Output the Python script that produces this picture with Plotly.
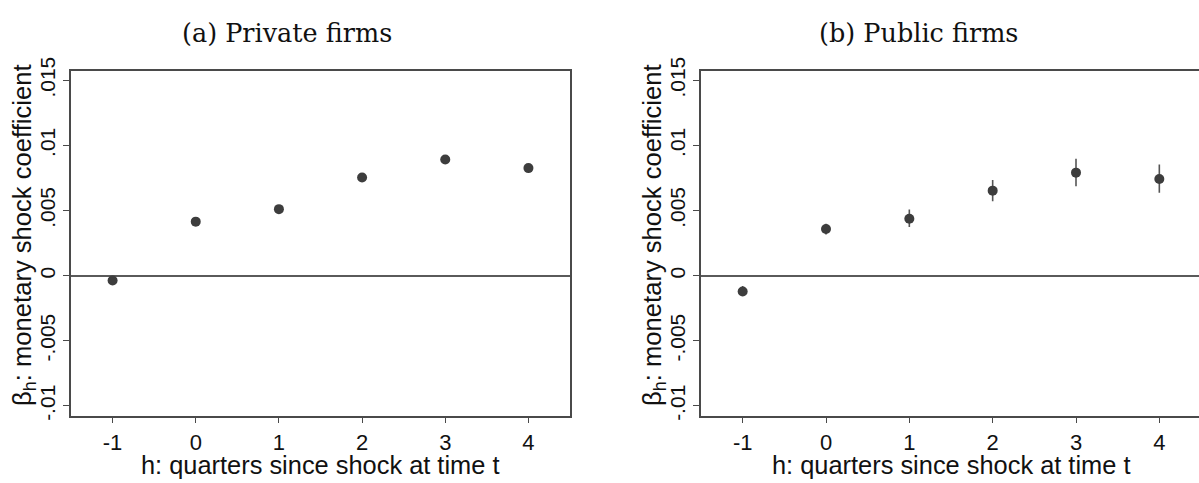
import plotly.graph_objects as go

# Event-time horizons (quarters since shock)
horizons = [-1, 0, 1, 2, 3, 4]
x_ticks = [-1, 0, 1, 2, 3, 4]
x_tick_labels = ["-1", "0", "1", "2", "3", "4"]
y_ticks = [-0.01, -0.005, 0, 0.005, 0.01, 0.015]
y_tick_labels = ["-.01", "-.005", "0", ".005", ".01", ".015"]

# Private firms: point estimates
private_beta = [-0.00037, 0.00415, 0.00511, 0.00754, 0.00892, 0.00826]

# Public firms: point estimates and confidence bounds
public_beta = [-0.00121, 0.00359, 0.00437, 0.00653, 0.00791, 0.00742]
public_upper = [-0.00079, 0.00398, 0.00509, 0.00735, 0.00897, 0.00853]
public_lower = [-0.00155, 0.00317, 0.00373, 0.00572, 0.00686, 0.00636]

W, H = 1199, 483
MARK = "#3d3d3d"
FRAME = "#4a4a4a"
XTICK_FONT = dict(family="Liberation Sans, Arial, sans-serif", size=22, color="#111")
YTICK_FONT = dict(family="Liberation Sans, Arial, sans-serif", size=21, color="#111")
XTITLE_FONT = dict(family="Liberation Sans, Arial, sans-serif", size=25.4, color="#111")
YTITLE_FONT = dict(family="Liberation Sans, Arial, sans-serif", size=25.6, color="#111")
HEAD_FONT = dict(family="DejaVu Serif, serif", size=25.5, color="#111")

def px_x(p):
    return p / W

def px_y(p):
    return 1 - p / H

fig = go.Figure()

fig.add_trace(go.Scatter(
    x=horizons, y=private_beta, mode="markers",
    marker=dict(size=10, color=MARK),
    xaxis="x", yaxis="y", showlegend=False,
))

fig.add_trace(go.Scatter(
    x=horizons, y=public_beta, mode="markers",
    marker=dict(size=10, color=MARK),
    error_y=dict(
        type="data", symmetric=False,
        array=[u - b for u, b in zip(public_upper, public_beta)],
        arrayminus=[b - l for b, l in zip(public_beta, public_lower)],
        width=0, thickness=1.6, color="#555555",
    ),
    xaxis="x2", yaxis="y2", showlegend=False,
))

y_dom = [px_y(418), px_y(59)]
y_range = [-0.01074, 0.01574]

common_x = dict(
    tickmode="array", tickvals=x_ticks, ticktext=x_tick_labels,
    ticks="outside", ticklen=6,
    tickcolor=FRAME, tickwidth=1.2, showgrid=False, zeroline=False,
    showline=True, linecolor=FRAME, linewidth=1.5, mirror=True,
    tickfont=XTICK_FONT,
)
common_y = dict(
    tickmode="array", tickvals=y_ticks, ticktext=y_tick_labels,
    ticks="outside", ticklen=6, tickcolor=FRAME, tickwidth=1.2,
    tickangle=-90, showgrid=False, zeroline=True, zerolinecolor="#5a5a5a",
    zerolinewidth=1.6, showline=True, linecolor=FRAME, linewidth=1.5,
    range=y_range, domain=y_dom, tickfont=YTICK_FONT,
)

fig.update_layout(
    width=W, height=H,
    margin=dict(l=0, r=0, t=0, b=0),
    paper_bgcolor="white", plot_bgcolor="white",
    xaxis=dict(common_x, domain=[px_x(71), px_x(570)], range=[-1.5, 4.5], anchor="y"),
    yaxis=dict(common_y, anchor="x", mirror=True),
    xaxis2=dict(common_x, domain=[px_x(701), 1.0], range=[-1.5, 4.476], anchor="y2"),
    yaxis2=dict(common_y, anchor="x2", mirror=False),
)

# Panel headings and axis titles
notes = [
    dict(text="(a) Private firms", x=px_x(287), y=px_y(20), font=HEAD_FONT, textangle=0),
    dict(text="(b) Public firms", x=px_x(919), y=px_y(20), font=HEAD_FONT, textangle=0),
    dict(text="h: quarters since shock at time t", x=px_x(320), y=px_y(469), font=XTITLE_FONT, textangle=0),
    dict(text="h: quarters since shock at time t", x=px_x(951), y=px_y(469), font=XTITLE_FONT, textangle=0),
    dict(text="β<sub>h</sub>: monetary shock coefficient", x=px_x(24), y=px_y(231), font=YTITLE_FONT, textangle=-90),
    dict(text="β<sub>h</sub>: monetary shock coefficient", x=px_x(654), y=px_y(231), font=YTITLE_FONT, textangle=-90),
]
for n in notes:
    fig.add_annotation(
        text=n["text"], x=n["x"], y=n["y"], xref="paper", yref="paper",
        xanchor="center", yanchor="middle", showarrow=False,
        font=n["font"], textangle=n["textangle"],
    )

fig.write_html("out.html")
